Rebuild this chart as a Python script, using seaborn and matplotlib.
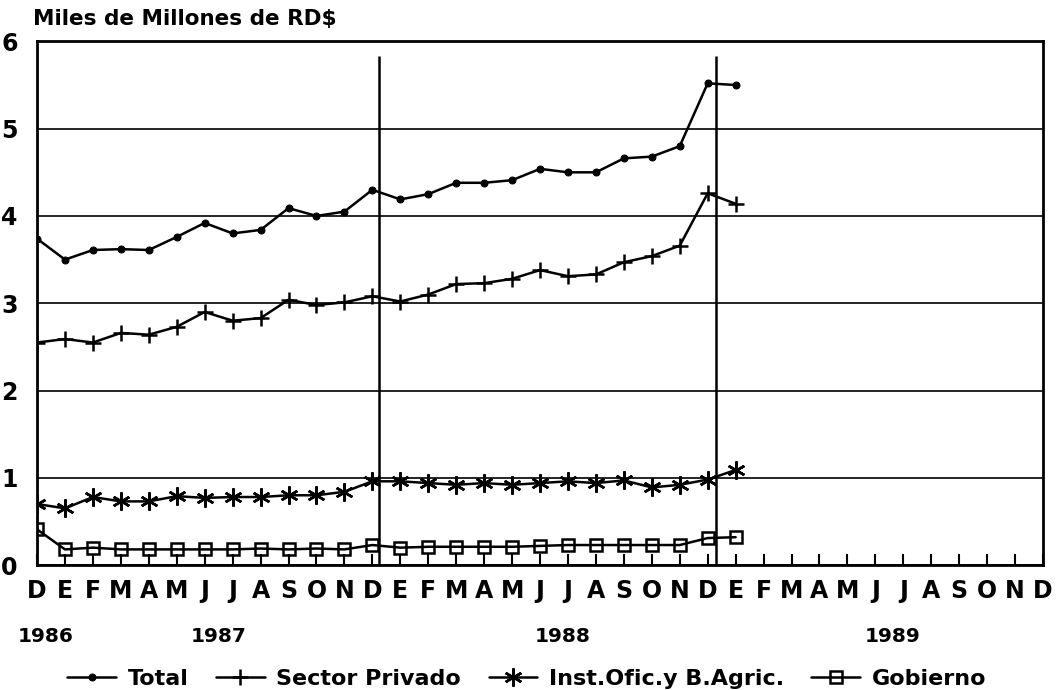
import matplotlib
matplotlib.use('Agg')
import matplotlib.pyplot as plt
import matplotlib.transforms as mtransforms
import pandas as pd
import seaborn as sns

sns.set_theme(style='white')
plt.rcParams['font.family'] = ['DejaVu Sans']
plt.rcParams['font.weight'] = 'bold'
plt.rcParams['text.color'] = 'black'
plt.rcParams['xtick.color'] = 'black'
plt.rcParams['ytick.color'] = 'black'

# months Dec 1986 .. Dec 1989
months = ['D', 'E', 'F', 'M', 'A', 'M', 'J', 'J', 'A', 'S', 'O', 'N',
          'D', 'E', 'F', 'M', 'A', 'M', 'J', 'J', 'A', 'S', 'O', 'N',
          'D', 'E', 'F', 'M', 'A', 'M', 'J', 'J', 'A', 'S', 'O', 'N', 'D']
years = ['1986', '1987', '1988', '1989']
year_pos = [0.3, 6.5, 18.8, 30.6]

total = [3.74, 3.50, 3.61, 3.62, 3.61, 3.76, 3.92, 3.80, 3.84, 4.09, 4.00, 4.05, 4.30,
         4.19, 4.25, 4.38, 4.38, 4.41, 4.54, 4.50, 4.50, 4.66, 4.68, 4.80, 5.52, 5.50]
privado = [2.55, 2.59, 2.55, 2.66, 2.64, 2.73, 2.90, 2.80, 2.83, 3.04, 2.98, 3.01, 3.08,
           3.02, 3.10, 3.22, 3.23, 3.28, 3.38, 3.31, 3.33, 3.47, 3.54, 3.66, 4.26, 4.14]
inst = [0.70, 0.65, 0.78, 0.73, 0.73, 0.79, 0.77, 0.78, 0.78, 0.80, 0.80, 0.84, 0.96,
        0.96, 0.94, 0.92, 0.94, 0.92, 0.94, 0.96, 0.94, 0.97, 0.89, 0.92, 0.98, 1.09]
gobierno = [0.41, 0.18, 0.20, 0.18, 0.18, 0.18, 0.18, 0.18, 0.19, 0.18, 0.19, 0.18, 0.23,
            0.20, 0.21, 0.21, 0.21, 0.21, 0.22, 0.23, 0.23, 0.23, 0.23, 0.23, 0.31, 0.32]

year_breaks = [12.25, 24.3]
break_top = 5.83

series = [
    ('Total', total, dict(marker='o', markersize=5)),
    ('Sector Privado', privado, dict(marker='+', markersize=12, mew=1.8)),
    ('Inst.Ofic.y B.Agric.', inst, dict(marker=(6, 2, 0), markersize=13, mew=1.8)),
    ('Gobierno', gobierno, dict(marker='s', markersize=9, mew=1.8, mfc='none')),
]

fig = plt.figure(figsize=(10.64, 6.9), dpi=100)
ax = fig.add_axes([0.0348, 0.181, 0.9455, 0.759])

for name, vals, style in series:
    df = pd.DataFrame({'mes': range(len(vals)), 'valor': vals})
    sns.lineplot(data=df, x='mes', y='valor', ax=ax, color='black', lw=1.8,
                 mec='black', label=name, **style)

ax.vlines(year_breaks, 0, break_top, color='black', lw=1.8)

ax.set_xlim(0, len(months) - 1)
ax.set_ylim(0, 6)
ax.set_xticks(range(len(months)))
ax.set_xticklabels(months, fontsize=17, fontweight='bold')
ax.set_yticks(range(7))
ax.set_yticklabels([str(i) for i in range(7)], fontsize=17, fontweight='bold')
ax.tick_params(axis='x', direction='in', length=8, width=1.5, pad=10, bottom=True)
ax.tick_params(axis='y', length=0, pad=14)
ax.set_xlabel('')
ax.set_ylabel('')
ax.yaxis.grid(True, color='black', lw=1.2)
ax.xaxis.grid(False)
for sp in ax.spines.values():
    sp.set_color('black')
    sp.set_linewidth(2)

trans = mtransforms.blended_transform_factory(ax.transData, fig.transFigure)
for yr, pos in zip(years, year_pos):
    ax.text(pos, 1 - 637 / 690, yr, transform=trans, ha='center', va='center',
            fontsize=14.5, fontweight='bold')

fig.text(0.031, 1 - 25 / 690, 'Miles de Millones de RD$', ha='left', va='baseline',
         fontsize=15.5, fontweight='bold')

ax.legend(loc='center', bbox_to_anchor=(0.495, 1 - 679 / 690), bbox_transform=fig.transFigure,
          ncol=4, frameon=False, handlelength=2.2, columnspacing=1.25,
          handletextpad=0.5, prop={'weight': 'bold', 'size': 16})

fig.savefig('out.png', dpi=100)
